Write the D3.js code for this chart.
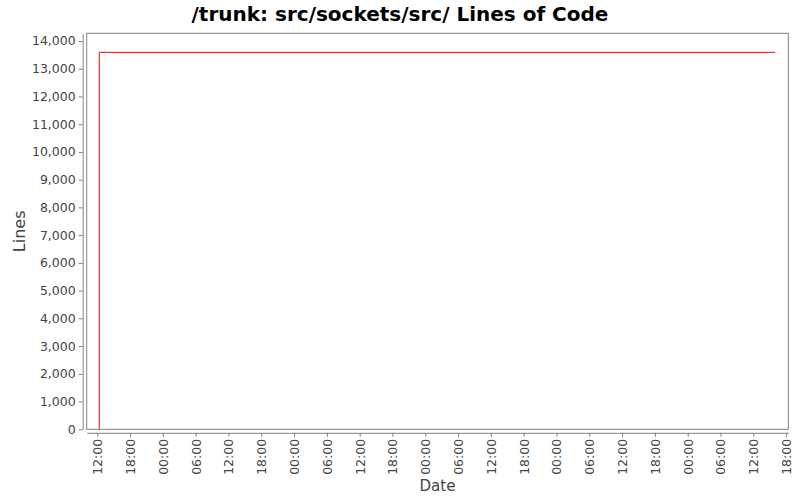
<!DOCTYPE html>
<html><head><meta charset="utf-8">
<script src="https://cdn.jsdelivr.net/npm/d3@7"></script>
<style>body{margin:0;background:#fff}svg{display:block}text{font-family:"DejaVu Sans",sans-serif}</style>
</head><body>
<svg id="c" width="800" height="500"></svg>
<script>
const titleText = "/trunk: src/sockets/src/ Lines of Code";
const xLabel = "Date";
const yLabel = "Lines";
const dates = ["2008-03-10T12:22", "2008-03-10T12:22", "2008-03-15T15:58"];
const lines = [0, 13590, 13590];
const xDomain = ["2008-03-10T10:04", "2008-03-15T18:24"];
const yDomain = [0, 14276];
const yTicks = [0,1000,2000,3000,4000,5000,6000,7000,8000,9000,10000,11000,12000,13000,14000];

const parse = d3.timeParse("%Y-%m-%dT%H:%M");
const data = dates.map((d,i)=>({t:parse(d), v:lines[i]}));
const svg = d3.select("#c");
const L=86.7, R=788.3, T=33.3, B=429.3;
const x = d3.scaleTime().domain(xDomain.map(parse)).range([L,R]);
const y = d3.scaleLinear().domain(yDomain).range([B,T]);

svg.append("text").attr("x",400).attr("y",21).attr("text-anchor","middle")
  .attr("font-size",20).attr("font-weight","bold").attr("fill","#000").text(titleText);

svg.append("rect").attr("x",L).attr("y",T).attr("width",R-L).attr("height",B-T)
  .attr("fill","#fff").attr("stroke","#808080").attr("stroke-width",1);

const fmt = d3.format(",");
const yAxis = svg.append("g").attr("transform",`translate(${L-4},0)`)
  .call(d3.axisLeft(y).tickValues(yTicks).tickFormat(fmt).tickSize(4).tickSizeOuter(0).tickPadding(3));
yAxis.select(".domain").attr("stroke","#808080");
yAxis.selectAll(".tick line").attr("stroke","#808080");
yAxis.selectAll("text").attr("font-size",12.5).attr("fill","#444").attr("font-family","DejaVu Sans");

const xTicks = d3.timeHour.every(6).range(x.domain()[0], x.domain()[1]);
const xAxis = svg.append("g").attr("transform",`translate(0,${B+3.5})`)
  .call(d3.axisBottom(x).tickValues(xTicks).tickFormat(d3.timeFormat("%H:%M")).tickSize(4).tickSizeOuter(0));
xAxis.select(".domain").attr("stroke","#808080");
xAxis.selectAll(".tick line").attr("stroke","#808080");
xAxis.selectAll("text").attr("font-size",12.5).attr("fill","#444").attr("font-family","DejaVu Sans")
  .attr("transform","rotate(-90)").attr("text-anchor","end").attr("y",0).attr("dy","0.35em").attr("x",-6);

const line = d3.line().x(d=>x(d.t)).y(d=>y(d.v));
svg.append("path").datum(data).attr("d",line).attr("fill","none").attr("stroke","#ff0000").attr("stroke-width",1);

svg.append("text").attr("x",(L+R)/2).attr("y",491).attr("text-anchor","middle")
  .attr("font-size",15).attr("fill","#444").text(xLabel);
svg.append("text").attr("transform",`translate(25,${(T+B)/2}) rotate(-90)`).attr("text-anchor","middle")
  .attr("font-size",16).attr("fill","#444").text(yLabel);
</script>
</body></html>
